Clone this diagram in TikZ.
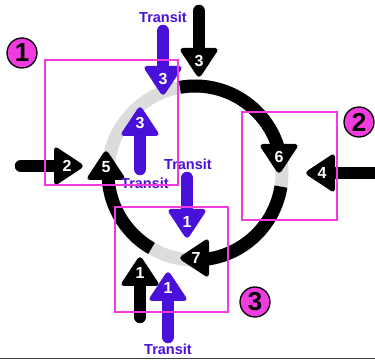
\documentclass[tikz,border=0pt]{standalone}
\usepackage{fontspec}
\setmainfont{Liberation Sans}
\definecolor{transit}{RGB}{72,16,216}
\definecolor{zone}{RGB}{240,60,222}
\definecolor{ringgray}{RGB}{220,220,220}
\tikzset{
  shaft/.style={line width=12.5pt, line cap=round},
  ring/.style={line width=13pt},
  num/.style={text=white, inner sep=0pt, font=\bfseries\fontsize{16}{16}\selectfont},
  tlabel/.style={text=transit, inner sep=0pt, font=\bfseries\fontsize{14.5}{14.5}\selectfont},
  zonebox/.style={draw=zone, line width=2.8pt},
  zonetag/.style={circle, draw=black, line width=1.3pt, fill=zone, minimum size=30pt,
    inner sep=0pt, font=\bfseries\fontsize{26}{26}\selectfont},
  % arrow head with an upright number in it
  head/.pic={
    \path[pic actions, rounded corners=4.5pt] (-13,-20.5) -- (18,0) -- (-13,20.5) -- cycle;
    \node[num] (-n) {\tikzpictext};
  },
}

\begin{document}
\begin{tikzpicture}[x=1pt, y=1pt]
  \useasboundingbox (0,0) rectangle (375,359);

  % Roundabout
  \coordinate (c) at (195,186);
  \draw[ring, ringgray] (c) circle[radius=87];
  \draw[ring] (c) ++(100:87) arc[start angle=100, end angle=12, radius=87];
  \draw[ring] (c) ++(-9:87) arc[start angle=-9, end angle=-88, radius=87];
  \draw[ring] (c) ++(240:87) arc[start angle=240, end angle=178, radius=87];
  \pic[fill=black, rotate=90, pic text=5] (r5) at (106,192) {head};
  \pic[fill=black, rotate=-90, pic text=6] (r6) at (279,202) {head};
  \pic[fill=black, rotate=180, pic text=7] (r7) at (196,101) {head};

  % Entries
  \coordinate (t3) at (199,348);
  \coordinate (h3) at (199,298);
  \draw[shaft] (t3) -- (h3);
  \pic[fill=black, rotate=-90, pic text=3] (a3) at (h3) {head};

  \coordinate (t2) at (21,193);
  \coordinate (h2) at (67,193);
  \draw[shaft] (t2) -- (h2);
  \pic[fill=black, rotate=0, pic text=2] (a2) at (h2) {head};

  \coordinate (t4) at (385,186);
  \coordinate (h4) at (322,186);
  \draw[shaft] (t4) -- (h4);
  \pic[fill=black, rotate=180, pic text=4] (a4) at (h4) {head};

  \coordinate (t1) at (140,42);
  \coordinate (h1) at (140,86);
  \draw[shaft] (t1) -- (h1);
  \pic[fill=black, rotate=90, pic text=1] (a1) at (h1) {head};

  % Transit lanes
  \node[tlabel] (tr1) at (163,342) {Transit};
  \coordinate (tt3) at (163,328);
  \coordinate (th3) at (163,280);
  \draw[shaft, transit] (tt3) -- (th3);
  \pic[fill=transit, rotate=-90, pic text=3] (b3) at (th3) {head};

  \node[tlabel] (tr2) at (145,176) {Transit};
  \coordinate (tu3) at (140,190);
  \coordinate (hu3) at (140,236);
  \draw[shaft, transit] (tu3) -- (hu3);
  \pic[fill=transit, rotate=90, pic text=3] (u3) at (hu3) {head};

  \node[tlabel] (tr3) at (188,195) {Transit};
  \coordinate (tc1) at (187,181);
  \coordinate (hc1) at (187,137);
  \draw[shaft, transit] (tc1) -- (hc1);
  \pic[fill=transit, rotate=-90, pic text=1] (c1) at (hc1) {head};

  \node[tlabel] (tr4) at (168,10) {Transit};
  \coordinate (tl1) at (168,22);
  \coordinate (hl1) at (168,71);
  \draw[shaft, transit] (tl1) -- (hl1);
  \pic[fill=transit, rotate=90, pic text=1] (l1) at (hl1) {head};

  % Zones
  \draw[zonebox] (45,174) rectangle (178,299);
  \draw[zonebox] (242,139) rectangle (337,247);
  \draw[zonebox] (115,47) rectangle (228,152);
  \node[zonetag] (z1) at (22,306) {1};
  \node[zonetag] (z2) at (359,237) {2};
  \node[zonetag] (z3) at (255,57) {3};

  \draw[line width=1pt, black!75] (0,1) -- (375,1);
\end{tikzpicture}
\end{document}
